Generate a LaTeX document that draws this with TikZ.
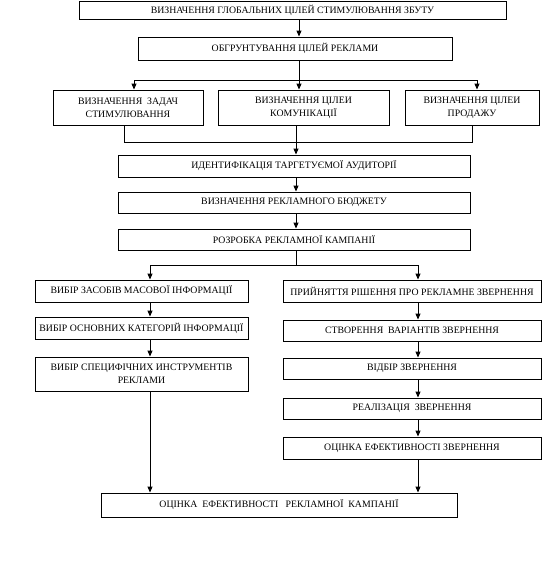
\documentclass[tikz,border=0pt]{standalone}
\usepackage{fontspec}
\setmainfont{Liberation Serif}
\usetikzlibrary{arrows.meta}
\begin{document}
\begin{tikzpicture}[x=1pt,y=-1pt,
  box/.style={draw, line width=0.9pt, inner sep=0pt, align=center,
    font=\fontsize{9.8}{13}\selectfont},
  link/.style={line width=0.9pt},
  arr/.style={line width=0.9pt, -{Triangle[length=6pt,width=5pt]}}]
\useasboundingbox (0,0) rectangle (544,582);
\fill[white] (0,0) rectangle (544,582);
% boxes
\node[box, minimum width=427, minimum height=18] (b1) at (292.5,10) {ВИЗНАЧЕННЯ ГЛОБАЛЬНИХ ЦІЛЕЙ СТИМУЛЮВАННЯ ЗБУТУ};
\node[box, minimum width=314, minimum height=23] (b2) at (295,48.5) {ОБГРУНТУВАННЯ ЦІЛЕЙ РЕКЛАМИ};
\node[box, minimum width=150, minimum height=35] (b3a) at (128,107.5) {ВИЗНАЧЕННЯ~~ЗАДАЧ\\СТИМУЛЮВАННЯ};
\node[box, minimum width=171, minimum height=35] (b3b) at (303.5,107.5) {ВИЗНАЧЕННЯ ЦІЛЕИ\\КОМУНІКАЦІЇ};
\node[box, minimum width=134, minimum height=35] (b3c) at (472,107.5) {ВИЗНАЧЕННЯ ЦІЛЕИ\\ПРОДАЖУ};
\node[box, minimum width=352, minimum height=22] (b4) at (294,166) {ИДЕНТИФІКАЦІЯ ТАРГЕТУЄМОЇ АУДИТОРІЇ};
\node[box, minimum width=352, minimum height=21] (b5) at (294,202.5) {ВИЗНАЧЕННЯ РЕКЛАМНОГО БЮДЖЕТУ};
\node[box, minimum width=352, minimum height=21] (b6) at (294,239.5) {РОЗРОБКА РЕКЛАМНОЇ КАМПАНІЇ};
\node[box, minimum width=213, minimum height=22] (l1) at (141.5,291) {ВИБІР ЗАСОБІВ МАСОВОЇ ІНФОРМАЦІЇ};
\node[box, minimum width=213, minimum height=22] (l2) at (141.5,328) {ВИБІР ОСНОВНИХ КАТЕГОРІЙ ІНФОРМАЦІЇ};
\node[box, minimum width=213, minimum height=34] (l3) at (141.5,374) {ВИБІР СПЕЦИФІЧНИХ ИНСТРУМЕНТІВ\\РЕКЛАМИ};
\node[box, minimum width=258, minimum height=22] (r1) at (412,291) {ПРИЙНЯТТЯ РІШЕННЯ ПРО РЕКЛАМНЕ ЗВЕРНЕННЯ};
\node[box, minimum width=258, minimum height=21] (r2) at (412,330.5) {СТВОРЕННЯ~~ВАРІАНТІВ ЗВЕРНЕННЯ};
\node[box, minimum width=258, minimum height=21] (r3) at (412,368.5) {ВІДБІР ЗВЕРНЕННЯ};
\node[box, minimum width=258, minimum height=21] (r4) at (412,408.5) {РЕАЛІЗАЦІЯ~~ЗВЕРНЕННЯ};
\node[box, minimum width=258, minimum height=22] (r5) at (412,448) {ОЦІНКА ЕФЕКТИВНОСТІ ЗВЕРНЕННЯ};
\node[box, minimum width=356, minimum height=24] (f) at (279,505) {ОЦІНКА~~ЕФЕКТИВНОСТІ~~~РЕКЛАМНОЇ~~КАМПАНІЇ};
% junction coordinates
\coordinate (j2) at (299,80);
\coordinate (j2a) at (134,80);
\coordinate (j2c) at (477,80);
\coordinate (j3a) at (124,142);
\coordinate (j3b) at (296,142);
\coordinate (j3c) at (472,142);
\coordinate (j6) at (296,265);
\coordinate (j6l) at (150,265);
\coordinate (j6r) at (418,265);
% connectors
\draw[arr] (b1.south -| j2) -- (b2.north -| j2);
\draw[link] (b2.south -| j2) -- (j2);
\draw[link] (j2a) -- (j2c);
\draw[arr] (j2a) -- (b3a.north -| j2a);
\draw[arr] (j2) -- (b3b.north -| j2);
\draw[arr] (j2c) -- (b3c.north -| j2c);
\draw[link] (b3a.south -| j3a) -- (j3a) -- (j3c) -- (b3c.south -| j3c);
\draw[arr] (b3b.south -| j3b) -- (b4.north -| j3b);
\draw[arr] (b4.south -| j3b) -- (b5.north -| j3b);
\draw[arr] (b5.south -| j3b) -- (b6.north -| j3b);
\draw[link] (b6.south -| j6) -- (j6);
\draw[link] (j6l) -- (j6r);
\draw[arr] (j6l) -- (l1.north -| j6l);
\draw[arr] (j6r) -- (r1.north -| j6r);
\draw[arr] (l1.south -| j6l) -- (l2.north -| j6l);
\draw[arr] (l2.south -| j6l) -- (l3.north -| j6l);
\draw[arr] (l3.south -| j6l) -- (f.north -| j6l);
\draw[arr] (r1.south -| j6r) -- (r2.north -| j6r);
\draw[arr] (r2.south -| j6r) -- (r3.north -| j6r);
\draw[arr] (r3.south -| j6r) -- (r4.north -| j6r);
\draw[arr] (r4.south -| j6r) -- (r5.north -| j6r);
\draw[arr] (r5.south -| j6r) -- (f.north -| j6r);
\end{tikzpicture}
\end{document}
